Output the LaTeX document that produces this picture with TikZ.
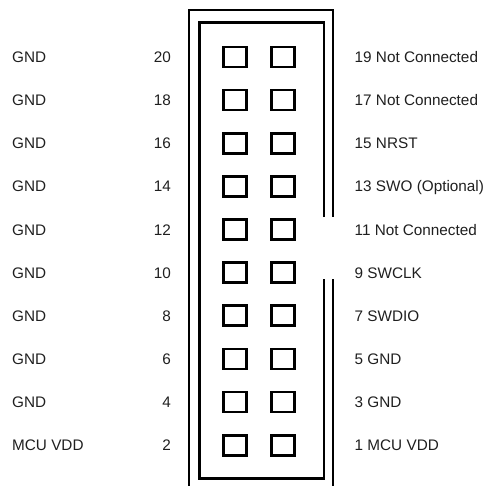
\documentclass[tikz,border=0pt]{standalone}
\usepackage{fontspec}
\setmainfont{Liberation Sans}
\begin{document}
\begin{tikzpicture}[x=1bp,y=-1bp,
  pinbox/.style={draw, line width=2.7bp, minimum width=23bp, minimum height=20bp, inner sep=0pt, outer sep=0pt},
  housing/.style={line width=2.9bp},
  lbl/.style={font=\fontsize{15.3bp}{18bp}\selectfont, inner sep=0pt, text=black!88}]
\useasboundingbox (0,0) rectangle (484,486);
% housing
\draw[housing] (189,492) -- (189,10) -- (333,10) -- (333,217);
\draw[housing] (333,279) -- (333,492);
\draw[housing] (324,217) -- (324,22.7) -- (199.3,22.7) -- (199.3,478.3) -- (324,478.3) -- (324,279);
% rows
\foreach \r/\ev/\od/\lt/\rt in {
  1/20/19/GND/19 Not Connected,
  2/18/17/GND/17 Not Connected,
  3/16/15/GND/15 NRST,
  4/14/13/GND/13 SWO (Optional),
  5/12/11/GND/11 Not Connected,
  6/10/9/GND/9 SWCLK,
  7/8/7/GND/7 SWDIO,
  8/6/5/GND/5 GND,
  9/4/3/GND/3 GND,
  10/2/1/MCU VDD/1 MCU VDD}{
  \pgfmathsetmacro{\yy}{57+(\r-1)*43.14}
  \node[pinbox] (pa\ev) at (235,\yy) {};
  \node[pinbox] (pb\od) at (283.3,\yy) {};
  \node[lbl, anchor=base west] (lg\ev) at (12,\yy+5.5) {\lt};
  \node[lbl, anchor=base east] (ln\ev) at (171,\yy+5.5) {\ev};
  \node[lbl, anchor=base west] (rl\od) at (354.5,\yy+5.5) {\rt};
}
\end{tikzpicture}
\end{document}
